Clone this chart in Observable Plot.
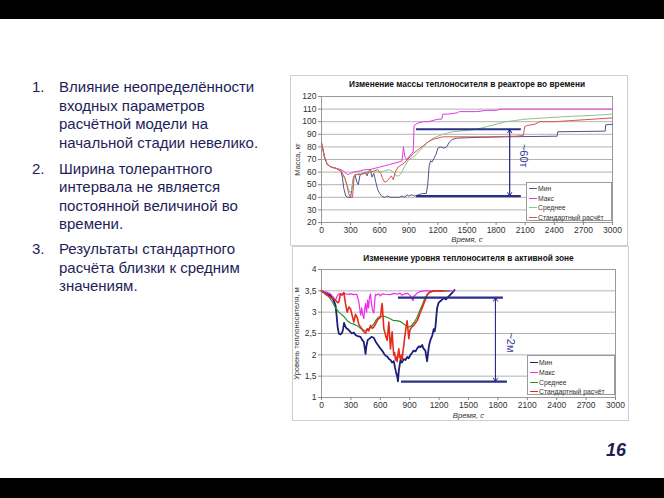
<!DOCTYPE html>
<html><head><meta charset="utf-8">
<script src="https://cdn.jsdelivr.net/npm/d3@7"></script>
<script src="https://cdn.jsdelivr.net/npm/@observablehq/plot@0.6"></script>
<style>
body{margin:0;background:#fff;font-family:"Liberation Sans",Arial,sans-serif;}
#slide{position:relative;width:664px;height:498px;overflow:hidden;background:#fff;}
.bar{position:absolute;left:0;width:664px;background:#000;}
.ln{position:absolute;font-size:15px;line-height:19px;color:#1e1e58;white-space:nowrap;}
.box{position:absolute;border:1px solid #cfcfcf;background:#fff;box-sizing:border-box;}
.plot{position:absolute;}
.legend{position:absolute;border:1px solid #9a9a9a;background:#fff;box-sizing:border-box;font-size:6.8px;color:#333;}
.legend .row{position:absolute;left:0;height:9px;line-height:9px;white-space:nowrap;}
.legend .sw{position:absolute;left:2px;top:4px;width:8px;height:0;border-top:1px solid #888;}
.legend .lb{position:absolute;left:11px;top:0;}
#page{position:absolute;left:606px;top:440px;font-size:18px;font-weight:bold;font-style:italic;color:#1e1e58;}
</style></head>
<body><div id="slide">
<div class="bar" style="top:0;height:19px"></div>
<div class="bar" style="top:478px;height:20px"></div>
<div class="box" style="left:290px;top:75px;width:338px;height:171px"></div>
<div class="box" style="left:292px;top:246px;width:337px;height:175px"></div>
<div id="page">16</div>
</div>
<script>
// ---------- data ----------
const seriesNames = ["Мин", "Макс", "Среднее", "Стандартный расчёт"];
const timeTicks = [0, 300, 600, 900, 1200, 1500, 1800, 2100, 2400, 2700, 3000];
const massTicks = [20, 30, 40, 50, 60, 70, 80, 90, 100, 110, 120];
const levelTicks = [1, 1.5, 2, 2.5, 3, 3.5, 4];
const levelTickLabels = ["1", "1,5", "2", "2,5", "3", "3,5", "4"];

const massTitle = "Изменение массы теплоносителя в реакторе во времени";
const levelTitle = "Изменение уровня теплоносителя в активной зоне";
const timeLabel = "Время, с";
const massLabel = "Масса, кг";
const levelLabel = "Уровень теплоносителя, м";
const massNote = "~60т";
const levelNote = "~2м";

const bullets = [
  ["1.", ["Влияние неопределённости", "входных параметров", "расчётной модели на", "начальной стадии невелико."]],
  ["2.", ["Ширина толерантного", "интервала не является", "постоянной величиной во", "времени."]],
  ["3.", ["Результаты стандартного", "расчёта близки к средним", "значениям."]]
];

// mass chart series [time, mass]
const massMin = [[0,83],[15,78],[30,72],[60,66],[100,64],[150,63],[200,61],[215,56],[230,47],[250,41],[270,40],[300,40],[315,48],[330,56],[345,58],[365,52],[380,50],[395,57],[420,59],[450,60],[470,57],[490,61],[505,62],[520,56],[540,59],[560,52],[580,46],[600,43],[620,41],[650,40],[680,41],[710,40],[750,40],[800,40],[830,41],[860,40],[880,42],[900,41],[930,42],[960,41],[1000,42],[1040,43],[1080,43],[1095,50],[1110,65],[1125,69],[1140,68],[1160,71],[1180,74],[1200,79],[1230,80],[1260,79],[1290,80],[1320,84],[1350,86],[1400,87],[1600,87.5],[1900,88],[2430,88.5],[2435,92],[2925,92.5],[2930,97.5],[3000,98]];
const massMax = [[0,83],[15,78],[30,72],[60,66],[100,64],[150,63],[200,62],[240,60],[270,58],[300,59],[330,60],[400,61],[450,62],[500,62],[550,63],[600,64],[650,65],[700,66],[750,67],[800,68],[830,69],[845,80],[860,72],[880,70],[900,72],[930,75],[945,76],[955,97],[975,98],[1000,99],[1050,100],[1100,100],[1150,101],[1200,102],[1240,102],[1250,106],[1300,106],[1400,107],[1420,108],[1600,108],[1700,109],[1800,109],[1850,110],[2000,110],[3000,110]];
const massMean = [[0,83],[15,78],[30,72],[60,66],[100,64],[150,63],[200,61],[240,56],[270,48],[290,44],[310,45],[330,56],[350,58],[400,59],[450,60],[500,61],[550,60],[600,60],[650,61],[700,62],[740,60],[770,57],[800,57],[830,60],[860,65],[900,70],[950,72],[1000,76],[1050,80],[1100,84],[1150,87],[1250,90],[1350,92],[1500,93],[1600,94],[1700,96],[1800,98],[1900,100],[2000,101],[2100,102],[2300,103],[2500,104],[2800,105],[3000,106]];
const massStd = [[0,83],[15,78],[30,72],[60,66],[100,64],[150,63],[200,61],[240,55],[260,50],[280,43],[300,40],[320,40],[335,55],[350,58],[400,58],[450,59],[500,60],[550,61],[580,62],[610,59],[630,55],[650,52],[680,53],[700,55],[720,57],[740,54],[760,60],[790,64],[850,67],[900,71],[950,75],[1000,78],[1050,81],[1100,84],[1150,86],[1250,88],[1400,88],[1700,88],[2000,88.5],[2080,89],[2095,96],[2120,97],[2200,98],[2250,100],[2400,100],[2600,101],[2800,102],[3000,103]];

// level chart series [time, level]
const levelMin = [[0,3.5],[40,3.45],[92,3.39],[120,3.3],[143,3.16],[155,2.9],[165,2.65],[177,2.5],[195,2.48],[211,2.52],[222,2.62],[230,2.75],[240,2.68],[255,2.62],[270,2.6],[290,2.55],[310,2.5],[330,2.52],[350,2.46],[370,2.44],[398,2.42],[415,2.35],[432,2.3],[442,2.15],[449,2.02],[458,2.2],[472,2.35],[490,2.38],[510,2.42],[534,2.4],[550,2.32],[570,2.25],[585,2.2],[600,2.15],[619,2.1],[640,2.02],[655,1.98],[670,1.96],[690,1.9],[704,1.88],[720,1.82],[738,1.85],[750,1.7],[760,1.6],[772,1.5],[780,1.38],[790,1.65],[806,1.88],[820,1.82],[840,1.9],[857,1.88],[875,1.95],[890,1.92],[908,2.0],[925,2.05],[940,2.1],[960,2.08],[976,2.15],[995,2.2],[1010,2.18],[1027,2.23],[1040,2.15],[1060,2.1],[1070,1.95],[1078,1.85],[1090,2.1],[1100,2.25],[1112,2.35],[1130,2.45],[1145,2.6],[1155,2.55],[1163,2.66],[1172,2.9],[1180,3.1],[1195,3.22],[1207,3.25],[1225,3.28],[1248,3.33],[1270,3.3],[1299,3.37],[1320,3.42],[1340,3.47],[1357,3.52]];
const levelMax = [[0,3.5],[50,3.47],[92,3.43],[120,3.35],[143,3.28],[160,3.38],[177,3.43],[200,3.42],[230,3.44],[260,3.42],[300,3.43],[330,3.41],[360,3.42],[381,3.24],[392,3.05],[400,2.93],[410,3.1],[420,2.95],[432,2.85],[440,3.05],[449,3.2],[460,3.0],[470,3.28],[480,3.1],[490,3.35],[500,3.43],[510,3.2],[520,3.05],[534,2.98],[545,3.3],[551,3.42],[565,3.4],[585,3.43],[600,3.38],[620,3.43],[650,3.42],[700,3.41],[740,3.44],[780,3.42],[800,3.45],[820,3.4],[850,3.43],[880,3.44],[900,3.4],[915,3.36],[925,3.3],[935,3.27],[945,3.38],[960,3.41],[976,3.45],[1000,3.48],[1044,3.5],[1350,3.5]];
const levelMean = [[0,3.5],[30,3.46],[58,3.41],[85,3.33],[109,3.25],[125,3.18],[143,3.1],[177,3.0],[228,2.9],[262,2.8],[300,2.74],[330,2.72],[364,2.68],[400,2.62],[432,2.57],[466,2.58],[500,2.64],[534,2.72],[551,2.8],[580,2.88],[602,2.9],[640,2.9],[670,2.88],[705,2.84],[738,2.8],[770,2.8],[806,2.78],[830,2.74],[857,2.69],[880,2.65],[900,2.66],[925,2.7],[950,2.78],[976,2.88],[1000,3.02],[1027,3.16],[1045,3.27],[1061,3.36],[1085,3.43],[1112,3.47],[1150,3.49],[1180,3.5],[1300,3.5]];
const levelStd = [[0,3.5],[41,3.42],[75,3.37],[109,3.33],[143,3.28],[165,3.22],[177,3.24],[194,3.43],[210,3.4],[228,3.46],[245,3.2],[262,3.0],[280,3.12],[296,3.08],[315,2.9],[330,2.77],[347,2.95],[364,2.88],[380,2.72],[398,2.65],[415,2.6],[432,2.54],[450,2.5],[466,2.61],[483,2.56],[500,2.69],[517,2.62],[534,2.65],[551,2.72],[568,2.8],[585,2.85],[602,2.88],[612,3.1],[619,3.2],[628,2.9],[636,2.61],[650,2.5],[660,2.4],[670,2.34],[680,2.6],[687,2.77],[695,2.45],[704,2.14],[712,2.35],[721,2.54],[730,2.2],[738,1.99],[746,2.05],[755,1.88],[763,1.95],[772,1.84],[780,2.0],[789,2.14],[797,1.95],[806,1.91],[815,2.0],[823,1.88],[832,2.1],[840,2.22],[848,2.4],[857,2.54],[866,2.7],[874,2.8],[882,2.6],[891,2.38],[900,2.55],[908,2.61],[925,2.66],[942,2.69],[960,2.75],[976,2.8],[993,2.9],[1010,3.0],[1027,3.1],[1044,3.2],[1061,3.3],[1078,3.4],[1095,3.45],[1112,3.48],[1146,3.5],[1250,3.5]];

// tolerance-band annotations
const massBand = [{y: 94, x1: 980, x2: 2060}, {y: 41, x1: 980, x2: 2060}];
const massArrow = {x: 1940, top: 94, bottom: 41};
const massNotePos = {x: 2085, y: 73};
const levelBand = [{y: 3.34, x1: 785, x2: 1856}, {y: 1.37, x1: 816, x2: 1897}];
const levelArrow = {x: 1775, top: 3.34, bottom: 1.37};
const levelNotePos = {x: 1930, y: 2.29};

// ---------- drawing ----------
const slide = document.getElementById("slide");
const navy = "#2a2f8a";

// bullet list
const starts = [86.5, 168, 248.5];
bullets.forEach(([num, lines], k) => {
  lines.forEach((t, j) => {
    const top = starts[k] + j * 18.5 - 9.5;
    if (j === 0) {
      const n = document.createElement("div");
      n.className = "ln"; n.style.left = "32px"; n.style.top = top + "px"; n.textContent = num;
      slide.appendChild(n);
    }
    const d = document.createElement("div");
    d.className = "ln"; d.style.left = "59px"; d.style.top = top + "px"; d.textContent = t;
    slide.appendChild(d);
  });
});

function chart(cfg) {
  const xy = {x: d => d[0], y: d => d[1]};
  const p = Plot.plot({
    width: cfg.w, height: cfg.h,
    marginLeft: cfg.ml, marginRight: cfg.mr, marginTop: cfg.mt, marginBottom: cfg.mb,
    style: {fontFamily: '"Liberation Sans", Arial, sans-serif', fontSize: "8.5px", color: "#333", background: "transparent", overflow: "visible"},
    x: {domain: [0, 3000]},
    y: {domain: cfg.yDomain},
    marks: [
      Plot.gridY(cfg.yTicks, {stroke: "#b3b3b3", strokeOpacity: 1}),
      Plot.frame({stroke: "#9a9a9a"}),
      Plot.axisX(timeTicks, {tickSize: 3, tickPadding: 1.5, label: null, stroke: "#888", tickFormat: d => String(d)}),
      Plot.axisY(cfg.yTicks, {tickSize: 3, tickPadding: 2, label: null, stroke: "#888", tickFormat: cfg.yFormat}),
      ...cfg.series.map((s, i) => Plot.line(s, {...xy, stroke: cfg.colors[i], strokeWidth: cfg.widths[i]})),
      Plot.ruleY(cfg.band, {y: "y", x1: "x1", x2: "x2", stroke: navy, strokeWidth: 2.2}),
      Plot.arrow([cfg.arrow], {x1: "x", x2: "x", y1: "bottom", y2: "top", stroke: navy, strokeWidth: 1, headLength: 6}),
      Plot.arrow([cfg.arrow], {x1: "x", x2: "x", y1: "top", y2: "bottom", stroke: navy, strokeWidth: 1, headLength: 6}),
      Plot.text([cfg.note], {x: () => cfg.notePos.x, y: () => cfg.notePos.y, text: d => d, rotate: 90, fontSize: 11, fill: "#3b3f9a"}),
      Plot.text([cfg.title], {text: d => d, frameAnchor: "top", dy: -cfg.titleDy, fontWeight: "bold", fontSize: 8.3, fill: "#111"}),
      Plot.text([timeLabel], {text: d => d, frameAnchor: "bottom", dy: cfg.xlDy, fontStyle: "italic", fontSize: 7.8, fill: "#333"}),
      Plot.text([cfg.ylabel], {text: d => d, frameAnchor: "left", textAnchor: "middle", dx: -cfg.ylDx, rotate: -90, fontSize: 7.5, fill: "#333"})
    ]
  });
  p.classList.add("plot");
  p.style.left = cfg.left + "px";
  p.style.top = cfg.top + "px";
  slide.appendChild(p);

  const lg = document.createElement("div");
  lg.className = "legend";
  Object.assign(lg.style, {left: cfg.lg.left + "px", top: cfg.lg.top + "px", width: cfg.lg.w + "px", height: cfg.lg.h + "px"});
  seriesNames.forEach((name, i) => {
    const r = document.createElement("div");
    r.className = "row"; r.style.top = (cfg.lg.row0 + i * cfg.lg.step) + "px";
    r.innerHTML = `<span class="sw" style="border-top-color:${cfg.colors[i]}"></span><span class="lb">${name}</span>`;
    lg.appendChild(r);
  });
  slide.appendChild(lg);
}

chart({
  left: 291, top: 75, w: 336, h: 170, ml: 30, mr: 15, mt: 21, mb: 23,
  yDomain: [20, 120], yTicks: massTicks, yFormat: d => String(d),
  series: [massMin, massMax, massMean, massStd],
  colors: ["#50548a", "#e03ade", "#8cc38c", "#d9534f"],
  widths: [1, 1, 1, 1],
  band: massBand, arrow: massArrow, note: massNote, notePos: massNotePos,
  title: massTitle, titleDy: 15, xlDy: 19, ylabel: massLabel, ylDx: 24,
  lg: {left: 526, top: 182, w: 86, h: 39, row0: 1, step: 9.6}
});

chart({
  left: 292, top: 246, w: 336, h: 174, ml: 29, mr: 13, mt: 23, mb: 23,
  yDomain: [1, 4], yTicks: levelTicks, yFormat: d => levelTickLabels[levelTicks.indexOf(d)],
  series: [levelMin, levelMax, levelMean, levelStd],
  colors: ["#1c1f7a", "#ee2aee", "#2f8f2f", "#e52a1e"],
  widths: [1.8, 1.2, 1.2, 1.6],
  band: levelBand, arrow: levelArrow, note: levelNote, notePos: levelNotePos,
  title: levelTitle, titleDy: 14, xlDy: 20, ylabel: levelLabel, ylDx: 25,
  lg: {left: 527, top: 355, w: 88, h: 40, row0: 2, step: 9.8}
});
</script>
</body></html>
